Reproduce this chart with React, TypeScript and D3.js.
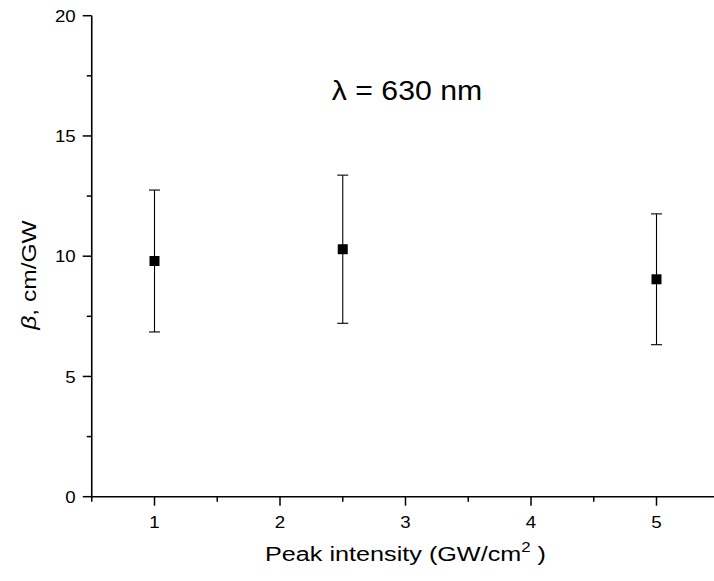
import React from "react";
import * as d3 from "d3";

const xValues = [1, 2.5, 5];
const yValues = [9.8, 10.29, 9.04];
const yErrors = [2.95, 3.08, 2.72];
const xTicks = [1, 2, 3, 4, 5];
const xMinorTicks = [0.5, 1.5, 2.5, 3.5, 4.5];
const yTicks = [0, 5, 10, 15, 20];
const yMinorTicks = [2.5, 7.5, 12.5, 17.5];

const W = 714;
const H = 581;
const FONT = "'Liberation Sans', Arial, Helvetica, sans-serif";

export default function App() {
  const x = d3.scaleLinear().domain([0.5, 5.5]).range([91.75, 719.25]);
  const y = d3.scaleLinear().domain([0, 20]).range([496.7, 15.7]);
  const x0 = x(0.5);
  const y0 = y(0);
  const majorLen = 9;
  const minorLen = 5;
  const capHalf = 5.5;
  const ms = 10;
  const tickScale = 1.1;

  return (
    <svg
      width={W}
      height={H}
      viewBox={`0 0 ${W} ${H}`}
      style={{ position: "absolute", left: 0, top: 0, display: "block", background: "#fff" }}
      fontFamily={FONT}
    >
      {/* axes lines */}
      <line x1={x0} x2={x0} y1={y(20)} y2={y0} stroke="#000" strokeWidth={1.6} />
      <line x1={x0} x2={W} y1={y0} y2={y0} stroke="#000" strokeWidth={1.6} />

      {/* y ticks */}
      {yTicks.map((t) => (
        <g key={"yt" + t}>
          <line x1={x0 - majorLen} x2={x0} y1={y(t)} y2={y(t)} stroke="#000" strokeWidth={1.5} />
          <text
            transform={`translate(${x0 - 16}, ${y(t)}) scale(${tickScale},1)`}
            dy="0.36em"
            textAnchor="end"
            fontSize={17}
            fill="#000"
          >
            {t}
          </text>
        </g>
      ))}
      {yMinorTicks.map((t) => (
        <line key={"ym" + t} x1={x0 - minorLen} x2={x0} y1={y(t)} y2={y(t)} stroke="#000" strokeWidth={1.5} />
      ))}

      {/* x ticks */}
      {xTicks.map((t) => (
        <g key={"xt" + t}>
          <line x1={x(t)} x2={x(t)} y1={y0} y2={y0 + majorLen} stroke="#000" strokeWidth={1.5} />
          <text
            transform={`translate(${x(t)}, ${y0 + 31}) scale(${tickScale},1)`}
            textAnchor="middle"
            fontSize={17}
            fill="#000"
          >
            {t}
          </text>
        </g>
      ))}
      {xMinorTicks.map((t) => (
        <line key={"xm" + t} x1={x(t)} x2={x(t)} y1={y0} y2={y0 + minorLen} stroke="#000" strokeWidth={1.5} />
      ))}

      {/* error bars */}
      {xValues.map((xv, i) => {
        const top = y(yValues[i] + yErrors[i]);
        const bot = y(yValues[i] - yErrors[i]);
        const cx = x(xv);
        return (
          <g key={"eb" + i} stroke="#000" strokeWidth={1.1}>
            <line x1={cx} x2={cx} y1={top} y2={bot} />
            <line x1={cx - capHalf} x2={cx + capHalf} y1={top} y2={top} />
            <line x1={cx - capHalf} x2={cx + capHalf} y1={bot} y2={bot} />
          </g>
        );
      })}

      {/* markers */}
      {xValues.map((xv, i) => (
        <rect
          key={"m" + i}
          x={x(xv) - ms / 2}
          y={y(yValues[i]) - ms / 2}
          width={ms}
          height={ms}
          fill="#000"
        />
      ))}

      {/* annotation */}
      <text transform="translate(407, 100) scale(1.12,1)" textAnchor="middle" fontSize={27} fill="#000">
        λ = 630 nm
      </text>

      {/* x title */}
      <text transform={`translate(${x(3)}, 561) scale(1.2,1)`} textAnchor="middle" fontSize={21} fill="#000">
        Peak intensity (GW/cm
        <tspan dy={-9} fontSize={14}>2</tspan>
        <tspan dy={9}> )</tspan>
      </text>

      {/* y title */}
      <text
        transform={`translate(36, 275) rotate(-90) scale(1.17,1)`}
        textAnchor="middle"
        fontSize={21}
        fill="#000"
      >
        <tspan fontStyle="italic">β</tspan>, cm/GW
      </text>
    </svg>
  );
}
